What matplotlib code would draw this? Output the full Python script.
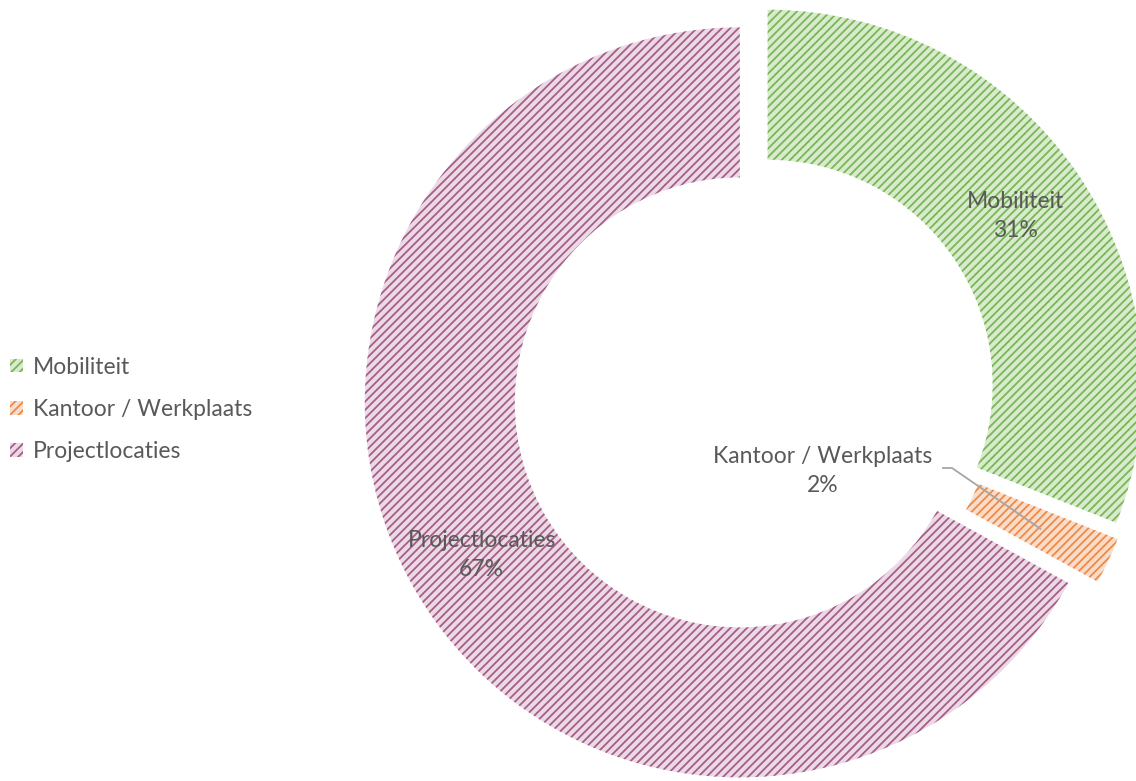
import numpy as np
import matplotlib
matplotlib.use("Agg")
import matplotlib.pyplot as plt

# data
categories = ["Mobiliteit", "Kantoor / Werkplaats", "Projectlocaties"]
shares = [31, 2, 67]
face_colors = ["#d8ebcd", "#fadccb", "#ebdae5"]
hatch_colors = ["#7ab657", "#ef8a45", "#a65d87"]

TEXT = "#595959"
plt.rcParams["font.family"] = ["Lato", "DejaVu Sans"]
plt.rcParams["hatch.linewidth"] = 1.3

fig = plt.figure(figsize=(11.36, 7.81), dpi=100)
ax = fig.add_axes([0, 0, 1, 1])

explode = [0.044] * len(shares)
wedges, _ = ax.pie(shares, startangle=90, counterclock=False, explode=explode,
                   radius=1.0, wedgeprops=dict(width=0.4, linewidth=0))
for w, fc, hc in zip(wedges, face_colors, hatch_colors):
    w.set_facecolor(fc)
    w.set_edgecolor(hc)
    w.set_hatch("////")
    w.set_linewidth(0)

# pixel-consistent limits (center at 754,394 px, radius 375 px)
ax.set_xlim(-754 / 375, (1136 - 754) / 375)
ax.set_ylim(-(781 - 394) / 375, 394 / 375)
ax.set_aspect("auto")
ax.axis("off")

def mid_point(w, r):
    ang = np.deg2rad((w.theta1 + w.theta2) / 2)
    cx, cy = w.center
    return cx + r * np.cos(ang), cy + r * np.sin(ang)

fs = 16.5
for i, (w, name, val) in enumerate(zip(wedges, categories, shares)):
    if i == 1:
        continue
    x, y = mid_point(w, 0.8)
    ax.text(x, y, f"{name}\n{val}%", ha="center", va="center", fontsize=fs,
            color=TEXT, linespacing=1.5)

# small slice: label moved inside the hole with leader line
kx, ky = 0.184, -0.205
ax.text(kx, ky, f"{categories[1]}\n{shares[1]}%", ha="center", va="center",
        fontsize=fs, color=TEXT, linespacing=1.5)
ax_, ay_ = mid_point(wedges[1], 0.8)
x0 = (943 - 754) / 375
x1 = (952 - 754) / 375
yl = (394 - 468) / 375
ax.plot([x0, x1, ax_], [yl, yl, ay_], color="#a6a6a6", lw=1.3)

leg = ax.legend(wedges, categories, loc="center left", bbox_to_anchor=(0.009, 0.476),
                frameon=False, fontsize=fs, handlelength=0.55, handleheight=0.55,
                handletextpad=0.45, labelspacing=0.92, labelcolor=TEXT,
                borderpad=0, borderaxespad=0)

fig.savefig("out.png", dpi=100)
